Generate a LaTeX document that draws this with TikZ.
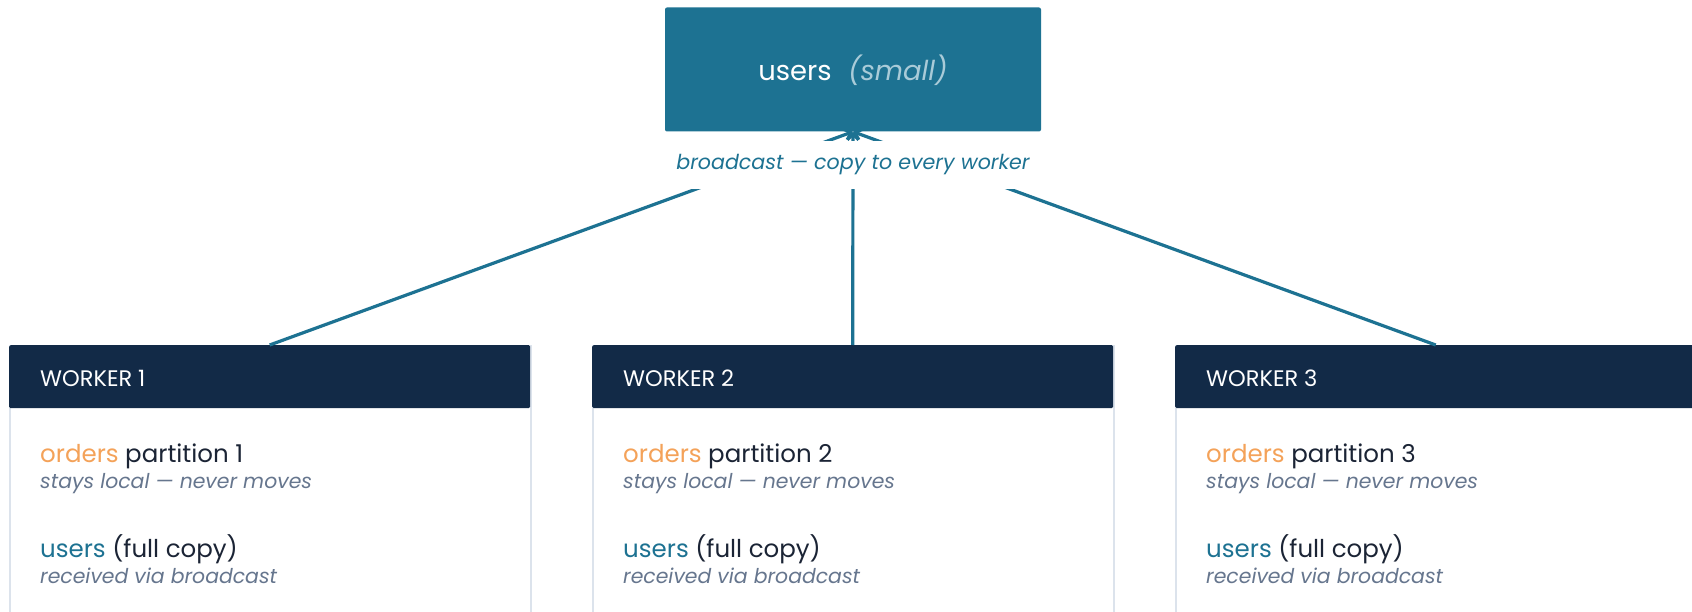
\documentclass[tikz,border=0pt]{standalone}
\usepackage{fontspec}
\setmainfont{Poppins}
\usetikzlibrary{arrows.meta}
\definecolor{topblue}{HTML}{1D7292}
\definecolor{navy}{HTML}{122A47}
\definecolor{orangec}{HTML}{F4A259}
\definecolor{darktext}{HTML}{1B2435}
\definecolor{greytext}{HTML}{66768E}
\definecolor{borderc}{HTML}{DCE3EC}
\definecolor{smallc}{HTML}{A9CBD8}
\newcommand{\fs}[1]{\fontsize{#1}{#1}\selectfont}
\tikzset{
  topbox/.style={fill=topblue, rounded corners=2pt, minimum width=376pt, minimum height=124pt, inner sep=0pt},
  wbody/.style={fill=white, draw=borderc, line width=1.5pt, minimum width=521pt, minimum height=300pt, anchor=north west, inner sep=0pt},
  whead/.style={fill=navy, rounded corners=1.5pt, minimum width=521pt, minimum height=63pt, anchor=north west, inner sep=0pt},
  wtitle/.style={anchor=west, text=white, font=\fs{22.5}, inner sep=0pt},
  maintext/.style={anchor=west, text=darktext, font=\fs{24.5}, inner sep=0pt},
  subtext/.style={anchor=west, text=greytext, font=\fs{20.4}\itshape, inner sep=0pt},
  conn/.style={draw=topblue, line width=3.2pt, -{Straight Barb[length=6pt,width=11pt,line width=3pt]}},
  bclabel/.style={fill=white, text=topblue, font=\fs{20.6}\itshape, inner xsep=10pt, inner ysep=0pt, minimum height=48pt}
}
\begin{document}
\begin{tikzpicture}[x=1pt,y=-1pt]
\useasboundingbox (0,0) rectangle (1692,612);
\clip (0,0) rectangle (1692,612);
\fill[white] (0,0) rectangle (1692,612);

\foreach \i/\x in {1/9, 2/592, 3/1175} {
  \node[wbody] (b\i) at (\x,345) {};
  \node[whead] (h\i) at (\x,345) {};
  \node[wtitle] (t\i) at (\x+31,378) {WORKER \i};
  \node[maintext] (o\i) at (\x+31,456) {\textcolor{orangec}{orders} partition \i};
  \node[subtext] (s\i) at (\x+31,484) {stays local — never moves};
  \node[maintext] (u\i) at (\x+31,549) {\textcolor{topblue}{users} (full copy)};
  \node[subtext] (r\i) at (\x+31,576) {received via broadcast};
}

\node[topbox] (top) at (853,69.5) {};

\draw[conn] (h1.north) -- (top.south);
\draw[conn] (h2.north) -- (top.south);
\draw[conn] (h3.north) -- (top.south);

\node[topbox, fill=none] (topc) at (853,69.5) {};
\node[anchor=center, inner sep=0pt] (toptext) at (853,70) {\fs{27.4}\textcolor{white}{users}\hspace{0.6em}\textcolor{smallc}{\itshape (small)}};

\node[bclabel] (bc) at (853,165) {broadcast — copy to every worker};
\end{tikzpicture}
\end{document}
